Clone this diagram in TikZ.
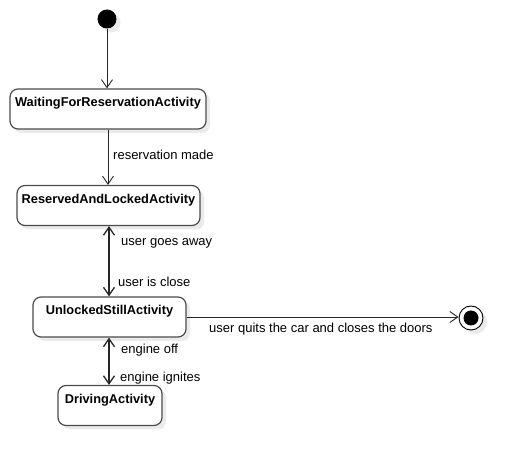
\documentclass[tikz,border=0pt]{standalone}
\usepackage{fontspec}
\setmainfont{Liberation Sans}
\usetikzlibrary{arrows.meta,shadows,calc}
\begin{document}
\begin{tikzpicture}[x=1pt,y=-1pt,
  shd/.style={drop shadow={shadow xshift=4pt,shadow yshift=-4pt,fill=black!8,opacity=1}},
  statebox/.style={shd,draw=black!70,line width=1.2pt,fill=white,rounded corners=8pt,
    minimum height=40pt,inner xsep=0pt,inner ysep=0pt,text height=18pt,text depth=22pt,
    font=\fontsize{12.8}{15}\selectfont\bfseries},
  lbl/.style={anchor=west,inner sep=0pt,font=\fontsize{13}{15}\selectfont},
  tr/.style={draw=black!85,line width=0.9pt,-{Straight Barb[length=8pt,width=11pt]}},
  tr2/.style={draw=black!85,line width=1.3pt,{Straight Barb[length=8pt,width=11pt]}-{Straight Barb[length=8pt,width=11pt]}}
]
\useasboundingbox (0,0) rectangle (523,465);
\node[shd,circle,fill=black,minimum size=19pt,inner sep=0pt] (init) at (107,19) {};
\node[statebox,minimum width=196pt] (w) at (108,109) {WaitingForReservationActivity};
\node[statebox,minimum width=183pt] (r) at (108.5,205.5) {ReservedAndLockedActivity};
\node[statebox,minimum width=153pt] (u) at (109.5,317) {UnlockedStillActivity};
\node[statebox,minimum width=104pt] (d) at (110,405.5) {DrivingActivity};
\node[shd,circle,draw=black,line width=0.9pt,fill=white,minimum size=24pt,inner sep=0pt] (f) at (471,318) {};
\node[circle,fill=black,minimum size=15pt,inner sep=0pt] (fi) at (f) {};
\draw[tr] (init) -- (init |- w.north);
\draw[tr] (w.south) -- (w.south |- r.north);
\draw[tr2] ($(r.south)+(0.5,0)$) -- ($(r.south |- u.north)+(0.5,0)$);
\draw[tr2] ($(u.south)+(-0.5,0)$) -- ($(u.south |- d.north)+(-0.5,0)$);
\draw[tr] (u.east) -- (u.east -| f.west);
\node[lbl] (l1) at (113,155) {reservation made};
\node[lbl] (l2) at (121,243) {user goes away};
\node[lbl] (l3) at (118,282) {user is close};
\node[lbl] (l4) at (121,350) {engine off};
\node[lbl] (l5) at (120,378) {engine ignites};
\node[lbl] (l6) at (209,329) {user quits the car and closes the doors};
\end{tikzpicture}
\end{document}
